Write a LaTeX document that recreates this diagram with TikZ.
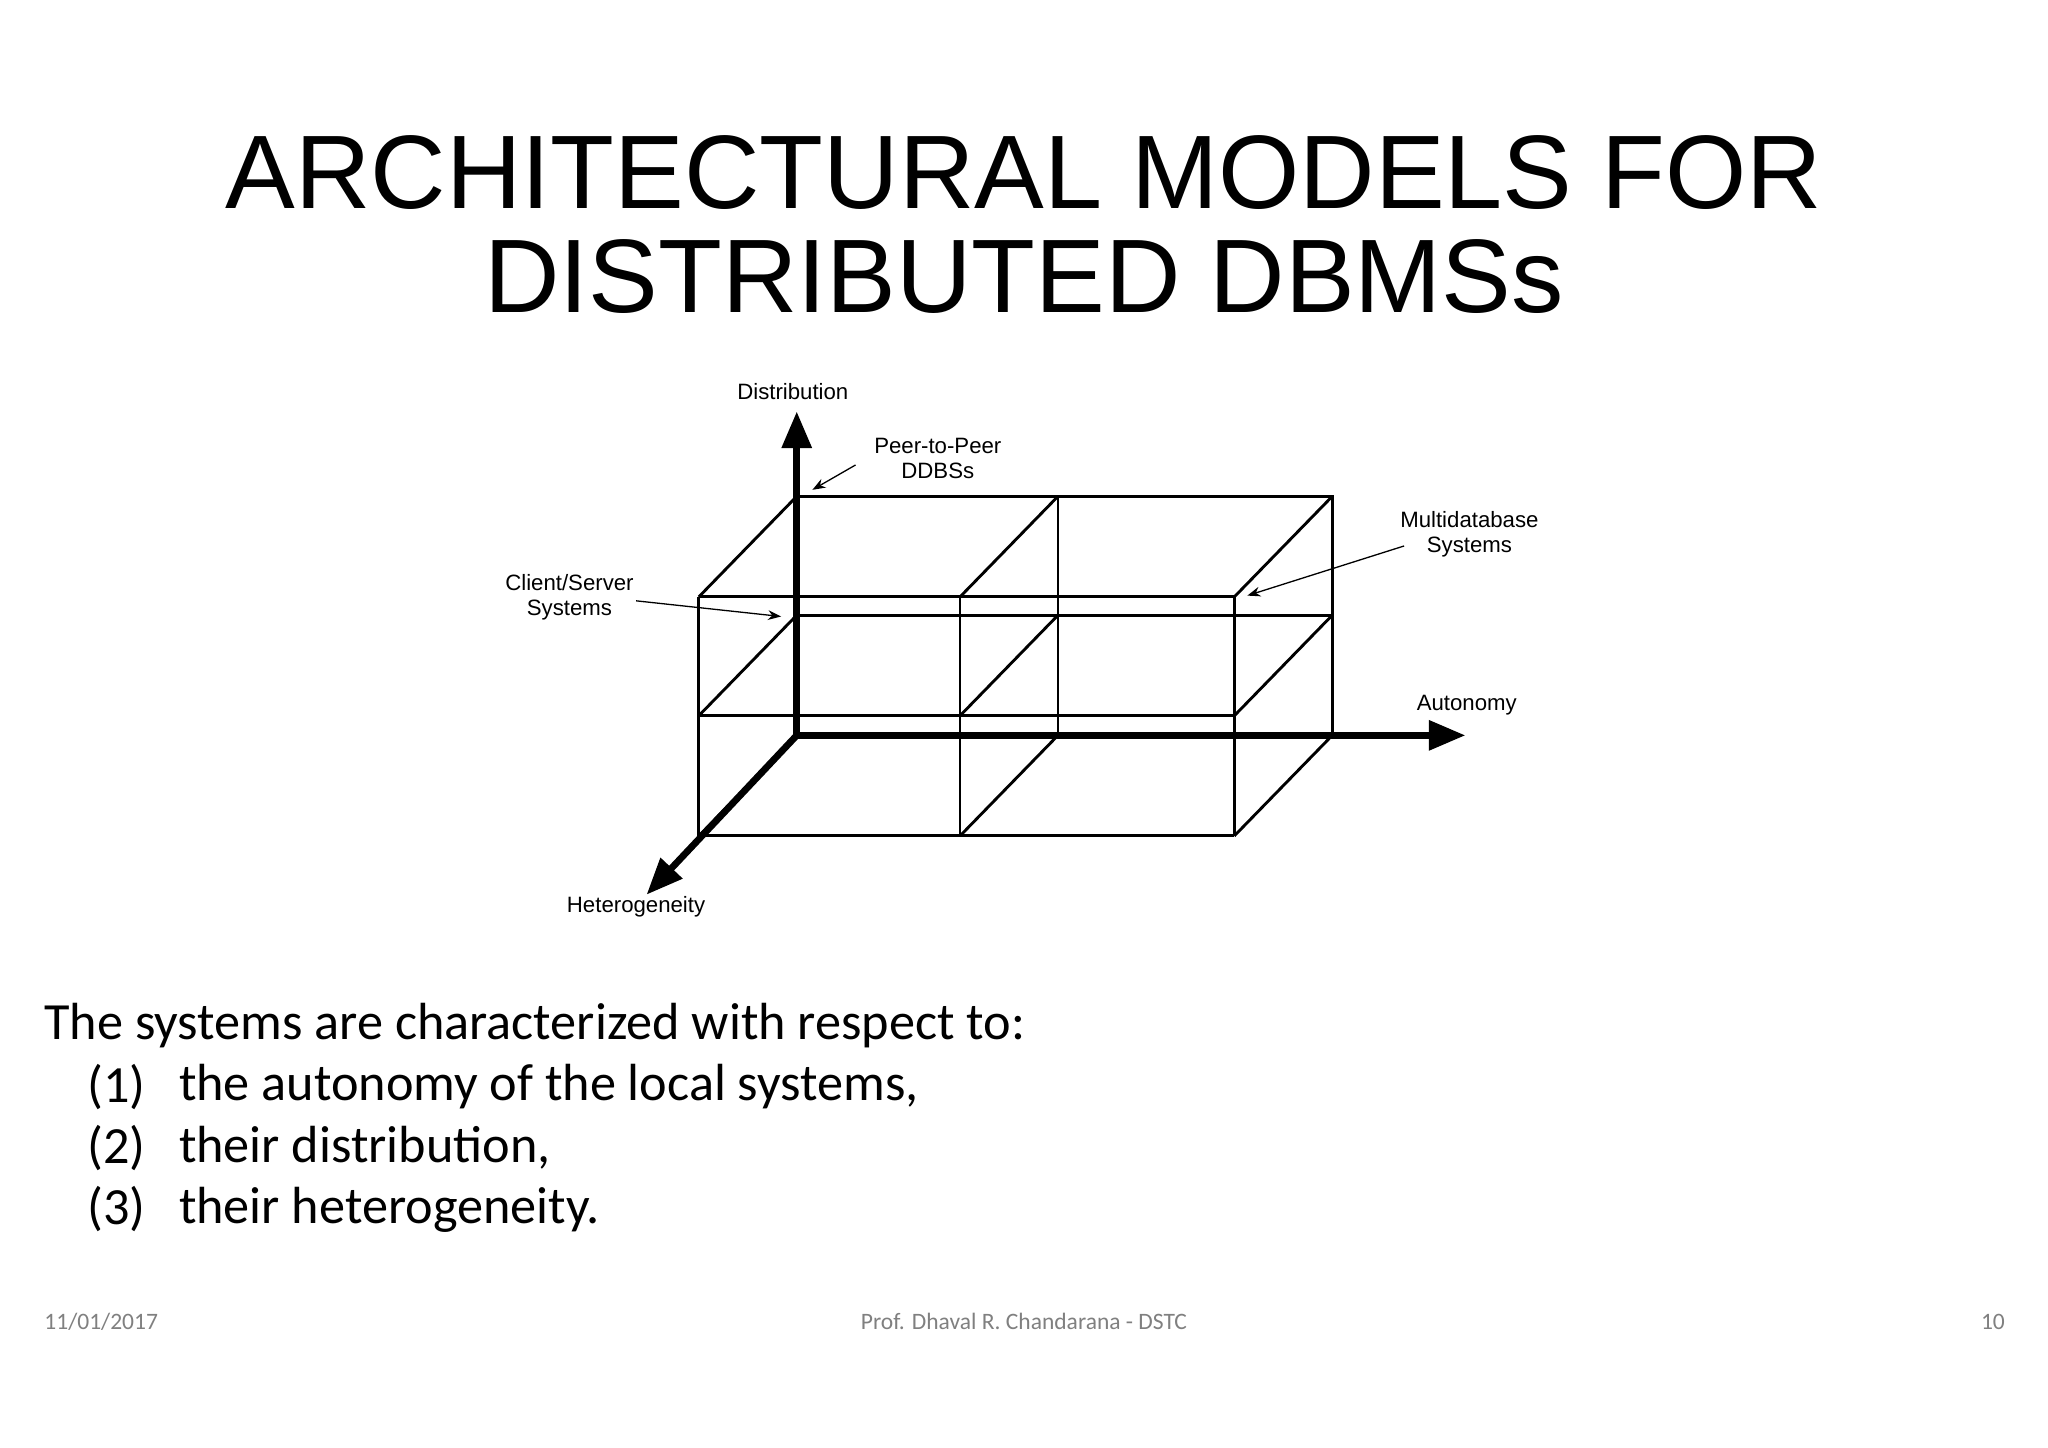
\documentclass[tikz,border=0pt]{standalone}
\usepackage{fontspec}
\setmainfont{Liberation Sans}
\newfontfamily\bodyf{Carlito}
\usetikzlibrary{arrows.meta}
\begin{document}
\begin{tikzpicture}[x=0.5pt,y=-0.5pt,
  edge/.style={line width=1.1pt},
  axis/.style={line width=2.6pt,-{Triangle[length=14pt,width=11pt]}},
  lbl/.style={font=\fontsize{8.5}{9.5}\selectfont,align=center},
  ptr/.style={line width=0.5pt,-{Stealth[length=5pt]}},
  body/.style={font=\bodyf\fontsize{20}{24}\selectfont,anchor=west},
  foot/.style={font=\bodyf\fontsize{9}{11}\selectfont,text=gray}]
\useasboundingbox[fill=white] (0,0) rectangle (1568,1108);
\node[font=\fontsize{40}{40}\selectfont] (t1) at (784,132) {ARCHITECTURAL MODELS FOR};
\node[font=\fontsize{40}{40}\selectfont] (t2) at (784,212) {DISTRIBUTED DBMSs};
% back face
\draw[edge] (610,380) -- (1020,380) -- (1020,563);
\draw[edge] (810,380) -- (810,563);
\draw[edge] (610,471) -- (1020,471);
% front face
\foreach \y in {457,548,640} \draw[edge] (535,\y) -- (945,\y);
\foreach \x in {535,735,945} \draw[edge] (\x,457) -- (\x,640);
% diagonals
\foreach \x in {535,735,945} \foreach \y in {457,548,640}
  \draw[edge] (\x,\y) -- ++(75,-77);
% axes
\coordinate (o) at (610,563);
\coordinate (ad) at (610,315);
\coordinate (aa) at (1122,563);
\coordinate (ah) at (495,685);
\draw[axis] (o) -- (ad);
\draw[axis] (o) -- (aa);
\draw[axis] (o) -- (ah);
\node[lbl] (ld) at (607,300) {Distribution};
\node[lbl] (la) at (1123,540) {Autonomy};
\node[lbl] (lh) at (487,694) {Heterogeneity};
\node[lbl] (lp) at (718,351) {Peer-to-Peer\\DDBSs};
\node[lbl] (lm) at (1125,409) {Multidatabase\\Systems};
\node[lbl] (lc) at (436,457) {Client/Server\\Systems};
\coordinate (pp) at (622,375);
\coordinate (pm) at (955,456);
\coordinate (pc) at (598,472);
\draw[ptr] (655,356) -- (pp);
\draw[ptr] (1075,418) -- (pm);
\draw[ptr] (487,460) -- (pc);
% body text
\node[body] (b0) at (27,785) {The systems are characterized with respect to:};
\node[body] (n1) at (60,832) {(1)};
\node[body] (s1) at (130,832) {the autonomy of the local systems,};
\node[body] (n2) at (60,879) {(2)};
\node[body] (s2) at (130,879) {their distribution,};
\node[body] (n3) at (60,926) {(3)};
\node[body] (s3) at (130,926) {their heterogeneity.};
\node[foot,anchor=west] (f1) at (27,1012) {11/01/2017};
\node[foot] (f2) at (784,1012) {Prof. Dhaval R. Chandarana - DSTC};
\node[foot,anchor=east] (f3) at (1542,1012) {10};
\end{tikzpicture}
\end{document}
